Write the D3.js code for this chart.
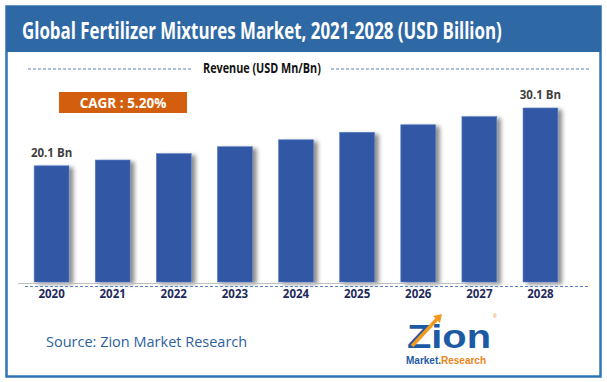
<!DOCTYPE html>
<html>
<head>
<meta charset="utf-8">
<script src="https://cdn.jsdelivr.net/npm/d3@7"></script>
<style>
  body { margin:0; background:#fff; }
  svg { display:block; font-family:"Open Sans", "Liberation Sans", sans-serif; }
</style>
</head>
<body>
<svg id="chart" width="607" height="382"></svg>
<script>
// chart data
var years   = ["2020","2021","2022","2023","2024","2025","2026","2027","2028"];
var revenue = [20.1, 21.1, 22.2, 23.4, 24.6, 25.9, 27.2, 28.6, 30.1];
var barLabels = ["20.1 Bn","","","","","","","","30.1 Bn"];
var titleText = "Global Fertilizer Mixtures Market, 2021-2028 (USD Billion)";
var subTitle  = "Revenue (USD Mn/Bn)";
var cagrText  = "CAGR : 5.20%";
var sourceText = "Source: Zion Market Research";

var svg = d3.select("#chart");
var defs = svg.append("defs");

// soft shadow on the right of each bar
var f = defs.append("filter").attr("id","barShadow")
    .attr("x","-10%").attr("y","-10%").attr("width","140%").attr("height","120%");
f.append("feDropShadow").attr("dx",4).attr("dy",2).attr("stdDeviation",2.2)
    .attr("flood-color","#000").attr("flood-opacity",0.45);

// squeeze a text horizontally so it spans w px (narrow font look)
function fitWidth(sel, x0, y0, w){
    var natural = sel.node().getComputedTextLength();
    sel.attr("transform","translate("+x0+","+y0+") scale("+(w/natural)+",1)");
}

// frame + title band
svg.append("rect").attr("x",6.5).attr("y",6.5).attr("width",594).attr("height",370)
    .attr("fill","#fff").attr("stroke","#2f74b5").attr("stroke-width",2.5);
svg.append("rect").attr("x",6).attr("y",6).attr("width",595).attr("height",46)
    .attr("fill","#2e69a5");
var title = svg.append("text")
    .attr("fill","#fff").attr("font-size",23).attr("font-weight","bold")
    .text(titleText);
fitWidth(title, 22, 38.5, 480);

// subtitle with dashed rules
var sub = svg.append("text")
    .attr("font-size",13.5).attr("font-weight","bold").attr("fill","#111")
    .text(subTitle);
fitWidth(sub, 203, 73, 118);
[[28,193],[331,591]].forEach(function(s){
    svg.append("line").attr("x1",s[0]).attr("x2",s[1]).attr("y1",69).attr("y2",69)
        .attr("stroke","#5b84c4").attr("stroke-width",1).attr("stroke-dasharray","3,2");
});

// CAGR box
svg.append("rect").attr("x",59).attr("y",92).attr("width",128).attr("height",21)
    .attr("fill","#d35f0e");
svg.append("text").attr("x",123).attr("y",107.5).attr("text-anchor","middle")
    .attr("font-size",13.5).attr("font-weight","bold").attr("fill","#fff")
    .text(cagrText);

// scales
var x = d3.scaleBand().domain(years).range([21,571]).paddingInner(0.43).paddingOuter(0.215);
var y = d3.scaleLinear().domain([0,30.1]).range([282,108]);

// bars
svg.append("g").selectAll("rect").data(revenue).join("rect")
    .attr("x",function(d,i){return x(years[i]);})
    .attr("y",function(d){return y(d);})
    .attr("width",x.bandwidth())
    .attr("height",function(d){return y(0)-y(d);})
    .attr("fill","#3358a5")
    .attr("stroke","#5a7cc0").attr("stroke-width",0.6)
    .attr("filter","url(#barShadow)");

// value labels
svg.append("g").selectAll("text").data(revenue).join("text")
    .attr("x",function(d,i){return x(years[i])+x.bandwidth()/2;})
    .attr("y",function(d){return y(d)-9;})
    .attr("text-anchor","middle")
    .attr("font-size",11.5).attr("font-weight","bold").attr("fill","#3f3f3f")
    .text(function(d,i){return barLabels[i];});

// axis line + dashed rule
svg.append("line").attr("x1",18).attr("x2",491).attr("y1",283.5).attr("y2",283.5)
    .attr("stroke","#bfbfbf").attr("stroke-width",1);
svg.append("line").attr("x1",25).attr("x2",590).attr("y1",286.5).attr("y2",286.5)
    .attr("stroke","#5b84c4").attr("stroke-width",1).attr("stroke-dasharray","3,2");

// year axis
var xAxis = d3.axisBottom(x).tickSize(0).tickPadding(0);
var gx = svg.append("g").attr("transform","translate(0,288)").call(xAxis);
gx.select(".domain").remove();
gx.selectAll("text").attr("font-size",11.5).attr("font-weight","bold")
    .attr("fill","#1f2a5c").attr("font-family","\"Open Sans\", sans-serif")
    .attr("dy","0.9em");

// source
svg.append("text").attr("x",46).attr("y",347)
    .attr("font-size",14.5).attr("fill","#2e5f9e").text(sourceText);

// logo
var logo = svg.append("g").attr("font-family","\"Liberation Sans\", sans-serif");
logo.append("text").attr("x",449).attr("y",348).attr("text-anchor","middle")
    .attr("font-size",33).attr("font-weight","bold").attr("fill","#1d5aa5")
    .attr("textLength",84).attr("lengthAdjust","spacingAndGlyphs").text("Zion");
logo.append("line").attr("x1",412).attr("y1",346).attr("x2",438).attr("y2",318)
    .attr("stroke","#f29a1f").attr("stroke-width",3.5);
logo.append("path").attr("d","M433,316 L442,314 L440,323 Z").attr("fill","#f29a1f");
logo.append("text").attr("x",406).attr("y",364)
    .attr("font-size",10).attr("font-weight","bold").attr("fill","#1d5aa5")
    .text("Market.");
logo.append("text").attr("x",441).attr("y",364)
    .attr("font-size",10).attr("font-weight","bold").attr("fill","#e8861a")
    .text("Research");
logo.append("text").attr("x",493).attr("y",318).attr("font-size",5).attr("fill","#e8861a").text("®");
</script>
</body>
</html>
